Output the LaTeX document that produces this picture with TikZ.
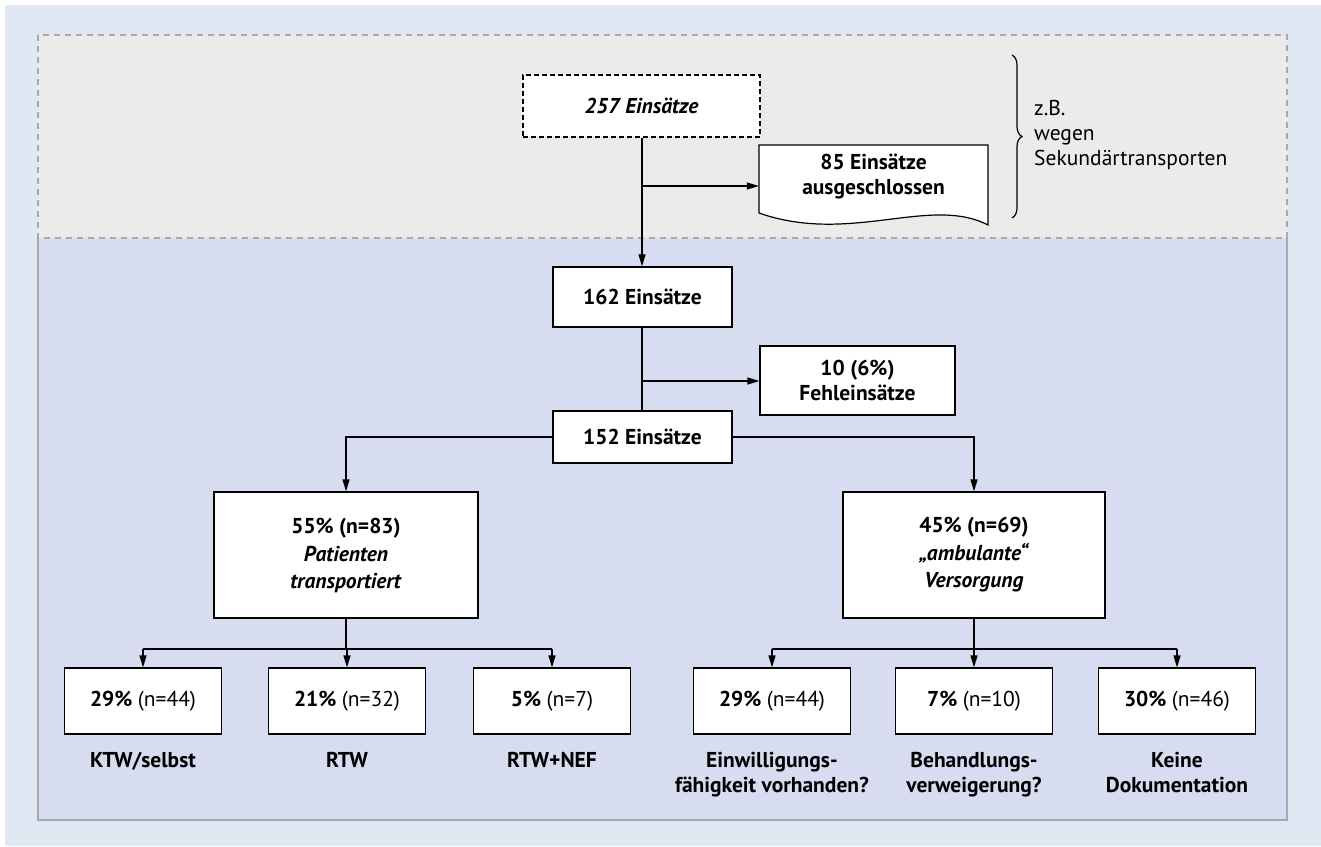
\documentclass[tikz,border=0pt]{standalone}
\usepackage{fontspec}
\setmainfont{PT Sans}
\usepackage{tikz}
\usetikzlibrary{positioning, arrows.meta, decorations.pathreplacing, calc}
\definecolor{outer}{HTML}{E0E9F3}
\definecolor{greyzone}{HTML}{EBEBEB}
\definecolor{bluezone}{HTML}{D7DCF1}
\definecolor{rim}{HTML}{A9A9A9}
\newcommand{\fs}{\fontsize{21.5}{25}\selectfont}

\begin{document}
\begin{tikzpicture}[x=1pt, y=-1pt,
    box/.style={draw, fill=white, line width=1.2pt, align=center, inner sep=0pt, font=\fs\bfseries},
    leaf/.style={box, minimum width=157pt, minimum height=66pt},
    lbl/.style={align=center, inner sep=0pt, font=\fs\bfseries, anchor=north},
    note/.style={align=left, inner sep=0pt, font=\fs},
    link/.style={line width=1.2pt},
    arr/.style={link, -{Triangle[length=12pt, width=7pt]}}]
  \useasboundingbox (0,0) rectangle (1321,846);
  % panels
  \fill[outer] (5,5) rectangle (1321,846);
  \fill[bluezone] (38,238) rectangle (1287,820);
  \draw[rim, line width=1.5pt] (38,238) -- (38,820) -- (1287,820) -- (1287,238);
  \fill[greyzone] (38,35) rectangle (1287,238);
  \draw[rim, line width=2pt, dash pattern=on 6pt off 5pt] (38,35) rectangle (1287,238);

  % top part
  \node[box, dash pattern=on 5pt off 3pt, minimum width=237pt, minimum height=62pt,
        font=\fs\bfseries\itshape] (all) at (641.5,106) {257 Einsätze};
  \draw[link, fill=white] (759,145) -- (988,145) -- (988,225)
     .. controls (930,195) and (850,245) .. (759,213) -- cycle;
  \node[lbl, anchor=center, minimum width=229pt] (excl) at (873.5,177) {85 Einsätze\\ausgeschlossen};
  \draw[link, decorate, decoration={brace, amplitude=10pt}] (1012,55) -- (1012,218);
  \node[note, anchor=west] (why) at (1034,135) {z.B.\\wegen\\Sekundärtransporten};

  % middle
  \node[box, minimum width=179pt, minimum height=60pt] (n162) at (642.5,297) {162 Einsätze};
  \node[box, minimum width=195pt, minimum height=69pt] (fehl) at (857.5,380.5) {10 (6\%)\\Fehleinsätze};
  \node[box, minimum width=179pt, minimum height=52pt] (n152) at (642.5,437) {152 Einsätze};
  \node[box, minimum width=264pt, minimum height=126pt] (trans) at (346,555)
     {55\% (n=83)\\[3pt]\textit{Patienten}\\[2pt]\textit{transportiert}};
  \node[box, minimum width=262pt, minimum height=126pt] (amb) at (974,555)
     {45\% (n=69)\\[3pt]\textit{„ambulante“}\\[2pt]\textit{Versorgung}};

  \coordinate (br1) at (642,186);
  \coordinate (br2) at (642,381);
  \draw[arr] (all.south -| br1) -- (n162.north -| br1);
  \draw[arr] (br1) -- (br1 -| excl.west);
  \draw[link] (n162.south -| br2) -- (n152.north -| br2);
  \draw[arr] (br2) -- (br2 -| fehl.west);
  \draw[arr] (n152.west) -| (trans.north);
  \draw[arr] (n152.east) -| (amb.north);

  % bottom row
  \foreach \nm/\xx/\pc/\nn in {ktw/143/29/44, rtw/347/21/32, nef/552/5/7,
                               einw/772/29/44, beh/974/7/10, doku/1177/30/46}
    \node[leaf] (\nm) at (\xx,701) {\pc\% \textmd{(n=\nn)}};
  \node[lbl] (ktwlab) at (ktw.south |- 0,752) {KTW/selbst};
  \node[lbl] (rtwlab) at (rtw.south |- 0,752) {RTW};
  \node[lbl] (neflab) at (nef.south |- 0,752) {RTW+NEF};
  \node[lbl] (einwlab) at (einw.south |- 0,752) {Einwilligungs-\\fähigkeit vorhanden?};
  \node[lbl] (behlab) at (beh.south |- 0,752) {Behandlungs-\\verweigerung?};
  \node[lbl] (dokulab) at (doku.south |- 0,752) {Keine\\Dokumentation};

  \coordinate (j1) at (346,649);
  \coordinate (j2) at (974,649);
  \draw[link] (trans.south) -- (j1);
  \draw[link] (j1 -| ktw.north) -- (j1 -| nef.north);
  \draw[link] (amb.south) -- (j2);
  \draw[link] (j2 -| einw.north) -- (j2 -| doku.north);
  \foreach \nm in {ktw, rtw, nef, einw, beh, doku}
    \draw[arr] (\nm.north |- j1) -- (\nm.north);
\end{tikzpicture}
\end{document}
